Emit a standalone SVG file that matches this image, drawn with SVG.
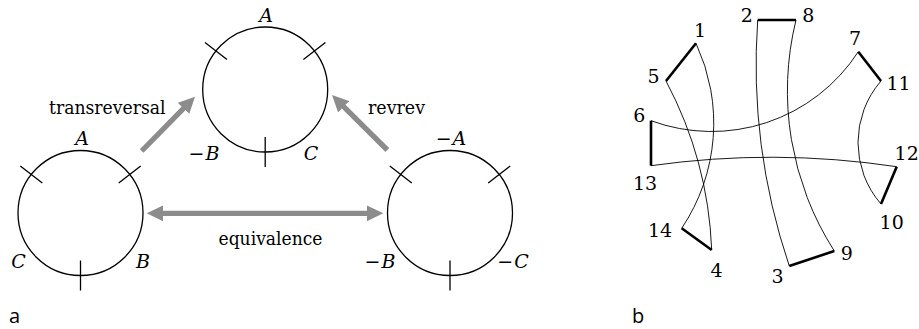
<svg xmlns="http://www.w3.org/2000/svg" xmlns:xlink="http://www.w3.org/1999/xlink" width="919" height="329" viewBox="0 0 919 329">
<style>
.ring{fill:none;stroke:#000;stroke-width:1.3}
.lbl{font-family:'DejaVu Serif','Liberation Serif',serif;font-size:19px;fill:#000}
.it{font-style:italic}
.mid{text-anchor:middle}
.arr{stroke:#8c8c8c;stroke-width:5.3;fill:none}
.thin{fill:none;stroke:#000;stroke-width:0.9}
.thick{fill:none;stroke:#000;stroke-width:2.6;stroke-linecap:butt}
.sans{font-family:'Open Sans','Noto Sans',sans-serif;font-size:20px;fill:#000}
</style>
<defs>
<g id="ring" class="ring">
<circle cx="0" cy="0" r="62.5"/>
<line x1="-60.2" y1="-47.1" x2="-38.2" y2="-29.9"/>
<line x1="60.2" y1="-47.1" x2="38.2" y2="-29.9"/>
<line x1="0" y1="47.5" x2="0" y2="77.5"/>
</g>
<marker id="head" markerUnits="userSpaceOnUse" markerWidth="17" markerHeight="16" viewBox="0 -8 17 16" refX="6.5" refY="0" orient="auto-start-reverse">
<path d="M0,-8 L16.5,0 L0,8 z" fill="#8c8c8c"/>
</marker>
</defs>

<g id="circle-top">
<use xlink:href="#ring" x="265.2" y="89.5"/>
<text class="lbl it mid" x="266" y="21.5">A</text>
<text class="lbl mid" x="204" y="160">−<tspan class="it" dx="1">B</tspan></text>
<text class="lbl it mid" x="311" y="160">C</text>
</g>

<g id="circle-left">
<use xlink:href="#ring" x="80.5" y="213"/>
<text class="lbl it mid" x="82" y="145">A</text>
<text class="lbl it mid" x="18.5" y="268">C</text>
<text class="lbl it mid" x="143" y="268">B</text>
</g>

<g id="circle-right">
<use xlink:href="#ring" x="450" y="213"/>
<text class="lbl mid" x="451" y="144.5">−<tspan class="it" dx="1">A</tspan></text>
<text class="lbl mid" x="380" y="268">−<tspan class="it" dx="1">B</tspan></text>
<text class="lbl mid" x="513" y="268">−<tspan class="it" dx="1">C</tspan></text>
</g>

<g id="connectors">
<line class="arr" x1="141.7" y1="151" x2="188.0" y2="103.8" marker-end="url(#head)"/>
<line class="arr" x1="387.3" y1="150" x2="339.1" y2="102.1" marker-end="url(#head)"/>
<line class="arr" x1="156.7" y1="213.3" x2="373.3" y2="213.3" marker-start="url(#head)" marker-end="url(#head)"/>
<text class="lbl" x="49" y="114" textLength="116.5" lengthAdjust="spacingAndGlyphs">transreversal</text>
<text class="lbl" x="368" y="113.5" textLength="57" lengthAdjust="spacingAndGlyphs">revrev</text>
<text class="lbl" x="218.5" y="244.5" textLength="104" lengthAdjust="spacingAndGlyphs">equivalence</text>
</g>

<text class="sans" x="9" y="322.5">a</text>

<g id="panel-b">
<path class="thin" d="M696,43.3 A188.5,188.5 0 0 1 681.7,228.3"/>
<path class="thin" d="M666,81 A393.2,393.2 0 0 1 711.7,250"/>
<path class="thin" d="M757.7,20 A630.1,630.1 0 0 0 789.3,266"/>
<path class="thin" d="M796,20 A296.6,296.6 0 0 0 834.3,251"/>
<path class="thin" d="M858.3,51.7 A174.9,174.9 0 0 1 651,120.7"/>
<path class="thin" d="M881,81 A93.7,93.7 0 0 0 881,204"/>
<path class="thin" d="M651,165.7 A851.4,851.4 0 0 1 896.7,166.7"/>
<line class="thick" x1="696" y1="43.3" x2="666" y2="81"/>
<line class="thick" x1="757.7" y1="20" x2="796" y2="20"/>
<line class="thick" x1="858.3" y1="51.7" x2="881" y2="81"/>
<line class="thick" x1="651" y1="120.7" x2="651" y2="165.7"/>
<line class="thick" x1="896.7" y1="166.7" x2="881" y2="204"/>
<line class="thick" x1="681.7" y1="228.3" x2="711.7" y2="250"/>
<line class="thick" x1="789.3" y1="266" x2="834.3" y2="251"/>
<text class="lbl mid" x="700" y="36.5">1</text>
<text class="lbl mid" x="746.7" y="21.5">2</text>
<text class="lbl mid" x="808.3" y="21.5">8</text>
<text class="lbl mid" x="855" y="45">7</text>
<text class="lbl mid" x="898.5" y="90">11</text>
<text class="lbl mid" x="653.5" y="83">5</text>
<text class="lbl mid" x="639.3" y="121.5">6</text>
<text class="lbl mid" x="645" y="190">13</text>
<text class="lbl mid" x="906.7" y="160">12</text>
<text class="lbl mid" x="891.7" y="228.5">10</text>
<text class="lbl mid" x="660" y="237">14</text>
<text class="lbl mid" x="716.5" y="276.5">4</text>
<text class="lbl mid" x="777.5" y="282.5">3</text>
<text class="lbl mid" x="846.7" y="260">9</text>
</g>

<text class="sans" x="632" y="322.5">b</text>
</svg>
